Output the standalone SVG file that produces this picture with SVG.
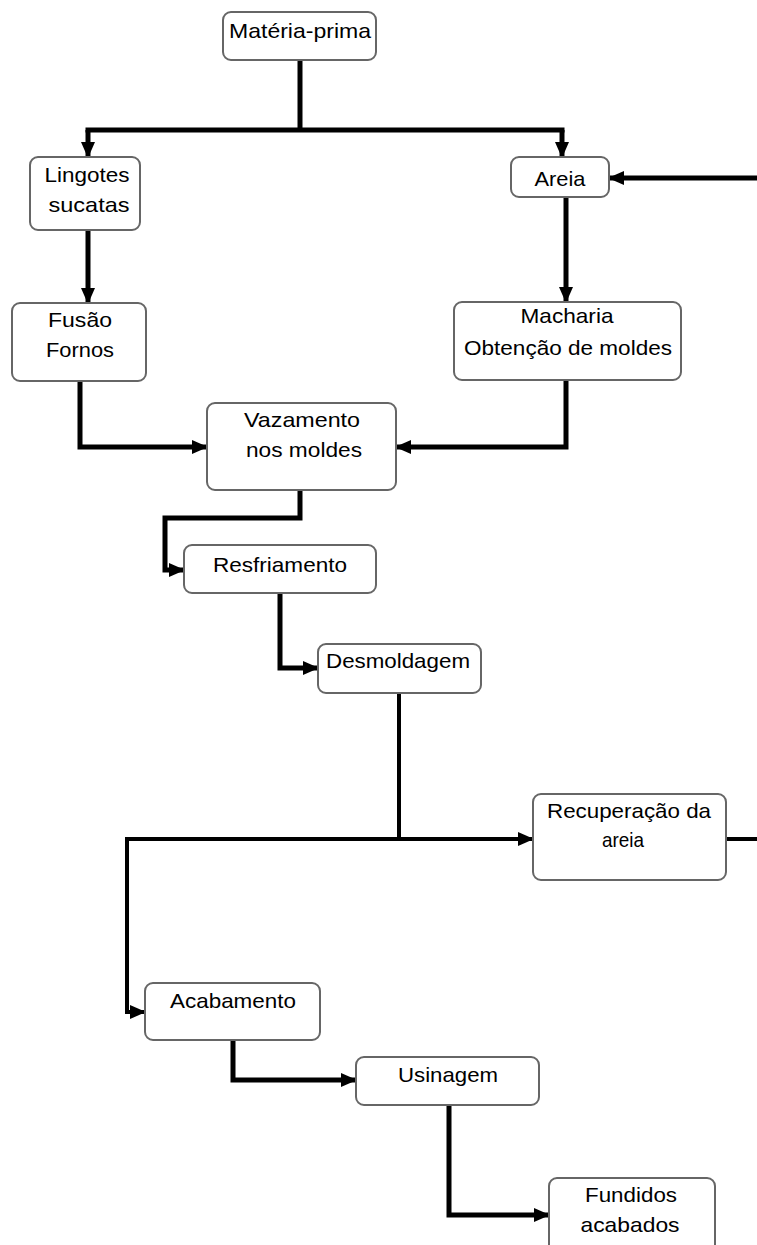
<svg xmlns="http://www.w3.org/2000/svg" width="757" height="1245" viewBox="0 0 757 1245">
<style>
.box{fill:#fff;stroke:#666;stroke-width:2}
.t{font-family:"Liberation Sans",Arial,sans-serif;font-size:21px;fill:#000;text-anchor:middle}
.c{fill:none;stroke:#000;stroke-width:5;stroke-linejoin:miter}
.c4{fill:none;stroke:#000;stroke-width:4}
</style>
<defs>
<marker id="ah" markerUnits="userSpaceOnUse" markerWidth="16" markerHeight="16" viewBox="0 0 16 16" refX="15" refY="8" orient="auto">
<path d="M0,1 L16,8 L0,15 Z" fill="#000"/>
</marker>
</defs>
<rect width="757" height="1245" fill="#fff"/>
<g id="connectors">
<path class="c" d="M300,60 V130"/>
<path class="c" d="M88,130 H562" stroke-linecap="square"/>
<path class="c" d="M88,130 V157" marker-end="url(#ah)"/>
<path class="c" d="M562,130 V157" marker-end="url(#ah)"/>
<path class="c" d="M757,178 H609" marker-end="url(#ah)"/>
<path class="c" d="M88,230 V303" marker-end="url(#ah)"/>
<path class="c" d="M566,197 V302" marker-end="url(#ah)"/>
<path class="c" d="M80,381 V447 H207" marker-end="url(#ah)"/>
<path class="c" d="M566,380 V447 H396" marker-end="url(#ah)"/>
<path class="c" d="M300,490 V518 H165 V570 H184" marker-end="url(#ah)"/>
<path class="c" d="M280,593 V668 H318" marker-end="url(#ah)"/>
<path class="c4" d="M399,693 V839"/>
<path class="c4" d="M399,839 H533" marker-end="url(#ah)"/>
<path class="c4" d="M399,839 H127 V1012 H145" marker-end="url(#ah)"/>
<path class="c4" d="M726,839 H757"/>
<path class="c" d="M233,1040 V1080 H356" marker-end="url(#ah)"/>
<path class="c" d="M449,1105 V1215 H549" marker-end="url(#ah)"/>
</g>
<g id="n-materia"><rect class="box" x="223" y="12" width="153" height="48" rx="8"/><text class="t" x="300" y="38" textLength="142" lengthAdjust="spacingAndGlyphs">Matéria-prima</text></g>
<g id="n-lingotes"><rect class="box" x="30" y="157" width="110" height="73" rx="8"/><text class="t" x="87" y="182" textLength="85" lengthAdjust="spacingAndGlyphs">Lingotes</text><text class="t" x="89" y="212" textLength="81" lengthAdjust="spacingAndGlyphs">sucatas</text></g>
<g id="n-areia"><rect class="box" x="511" y="157" width="98" height="40" rx="8"/><text class="t" x="560" y="186" textLength="51" lengthAdjust="spacingAndGlyphs">Areia</text></g>
<g id="n-fusao"><rect class="box" x="12" y="303" width="134" height="78" rx="8"/><text class="t" x="80" y="327" textLength="64" lengthAdjust="spacingAndGlyphs">Fusão</text><text class="t" x="80" y="357" textLength="68" lengthAdjust="spacingAndGlyphs">Fornos</text></g>
<g id="n-macharia"><rect class="box" x="454" y="302" width="227" height="78" rx="8"/><text class="t" x="567" y="323" textLength="93" lengthAdjust="spacingAndGlyphs">Macharia</text><text class="t" x="568" y="355" textLength="208" lengthAdjust="spacingAndGlyphs">Obtenção de moldes</text></g>
<g id="n-vazamento"><rect class="box" x="207" y="403" width="189" height="87" rx="8"/><text class="t" x="302" y="427" textLength="116" lengthAdjust="spacingAndGlyphs">Vazamento</text><text class="t" x="304" y="457" textLength="116" lengthAdjust="spacingAndGlyphs">nos moldes</text></g>
<g id="n-resfriamento"><rect class="box" x="184" y="545" width="192" height="48" rx="8"/><text class="t" x="280" y="572" textLength="134" lengthAdjust="spacingAndGlyphs">Resfriamento</text></g>
<g id="n-desmoldagem"><rect class="box" x="318" y="644" width="163" height="49" rx="8"/><text class="t" x="398" y="668" textLength="144" lengthAdjust="spacingAndGlyphs">Desmoldagem</text></g>
<g id="n-recuperacao"><rect class="box" x="533" y="794" width="193" height="86" rx="8"/><text class="t" x="629" y="818" textLength="164" lengthAdjust="spacingAndGlyphs">Recuperação da</text><text class="t" x="623" y="847" textLength="42" lengthAdjust="spacingAndGlyphs">areia</text></g>
<g id="n-acabamento"><rect class="box" x="145" y="983" width="175" height="57" rx="8"/><text class="t" x="233" y="1008" textLength="126" lengthAdjust="spacingAndGlyphs">Acabamento</text></g>
<g id="n-usinagem"><rect class="box" x="356" y="1057" width="183" height="48" rx="8"/><text class="t" x="448" y="1082" textLength="100" lengthAdjust="spacingAndGlyphs">Usinagem</text></g>
<g id="n-fundidos"><rect class="box" x="549" y="1178" width="166" height="75" rx="8"/><text class="t" x="631" y="1202" textLength="92" lengthAdjust="spacingAndGlyphs">Fundidos</text><text class="t" x="630" y="1232" textLength="99" lengthAdjust="spacingAndGlyphs">acabados</text></g>
</svg>
